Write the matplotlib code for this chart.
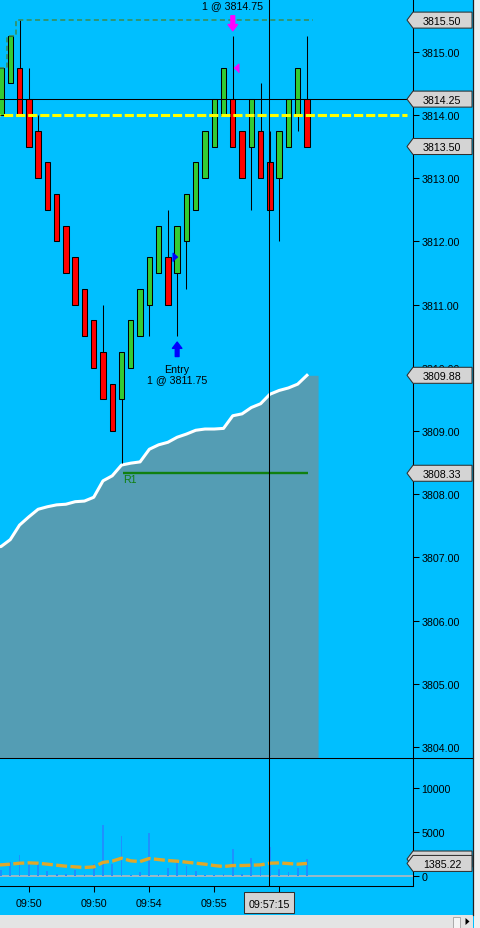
import numpy as np
import matplotlib
matplotlib.use('Agg')
import matplotlib.pyplot as plt
from matplotlib.patches import Polygon, Rectangle
from matplotlib.lines import Line2D
from matplotlib.transforms import IdentityTransform, offset_copy

plt.rcParams['font.family'] = ['Liberation Sans', 'DejaVu Sans']
FS = 7.7
BG = '#00BFFF'

#### bar data (34 bars)
opens = [3814.00, 3814.50, 3814.75, 3814.25, 3813.75, 3813.25, 3812.75, 3812.25, 3811.75, 3811.25,
         3810.75, 3810.25, 3809.75, 3809.50, 3810.00, 3810.50, 3811.00, 3811.50, 3811.75, 3811.50,
         3812.00, 3812.50, 3813.00, 3813.50, 3814.00, 3814.25, 3813.75, 3813.50, 3813.75, 3813.25,
         3813.00, 3813.50, 3814.00, 3814.25]
closes = [3814.75, 3815.25, 3814.00, 3813.50, 3813.00, 3812.50, 3812.00, 3811.50, 3811.00, 3810.50,
          3810.00, 3809.50, 3809.00, 3810.25, 3810.75, 3811.25, 3811.75, 3812.25, 3811.00, 3812.25,
          3812.75, 3813.25, 3813.75, 3814.25, 3814.75, 3813.50, 3813.00, 3814.25, 3813.00, 3812.50,
          3813.75, 3814.25, 3814.75, 3813.50]
highs = [3814.75, 3815.25, 3815.50, 3814.75, 3814.00, 3813.25, 3812.75, 3812.25, 3811.75, 3811.25,
         3810.75, 3811.00, 3809.75, 3810.25, 3810.75, 3811.25, 3811.75, 3812.25, 3812.50, 3812.25,
         3812.75, 3813.25, 3813.75, 3814.25, 3814.75, 3815.25, 3813.75, 3814.25, 3814.50, 3813.75,
         3813.75, 3814.25, 3814.75, 3815.25]
lows = [3814.00, 3814.50, 3814.00, 3813.50, 3813.00, 3812.50, 3812.00, 3811.50, 3811.00, 3810.50,
        3810.00, 3809.50, 3809.00, 3808.50, 3810.00, 3810.50, 3810.50, 3811.50, 3811.00, 3810.50,
        3811.25, 3812.50, 3813.00, 3813.50, 3814.00, 3813.50, 3813.00, 3812.50, 3813.00, 3812.50,
        3812.00, 3813.50, 3813.75, 3813.50]
volume = [610, 1600, 2330, 1300, 1300, 500, 230, 230, 610, 150,
          1300, 5760, 1300, 4500, 80, 380, 4850, 230, 840, 1490,
          1070, 500, 80, 80, 150, 3015, 230, 1985, 1070, 3240,
          725, 380, 840, 1890]
vol_avg = [1220, 1300, 1410, 1450, 1410, 1300, 1180, 1070, 990, 920,
           990, 1500, 1650, 1980, 1680, 1600, 1950, 1830, 1720, 1640,
           1530, 1410, 1300, 1145, 1030, 1145, 1145, 1180, 1220, 1410,
           1450, 1370, 1300, 1385.22]
profile = [3807.17, 3807.28, 3807.51, 3807.64, 3807.76, 3807.80, 3807.83, 3807.84, 3807.88, 3807.89,
           3807.95, 3808.21, 3808.29, 3808.46, 3808.49, 3808.51, 3808.71, 3808.78, 3808.82, 3808.90,
           3808.95, 3809.01, 3809.03, 3809.03, 3809.04, 3809.24, 3809.27, 3809.37, 3809.43, 3809.58,
           3809.64, 3809.68, 3809.74, 3809.88]
trail = [3814.75, 3815.25] + [3815.50] * 32

r1_level = 3808.33
r1_from, r1_to = 13.2, 33.1
yellow_level = 3814.00
entry_bar, entry_price = 19, 3811.75
exit_bar, exit_price = 25, 3814.75
cross_x, cross_price, cross_time = 28.9, 3814.25, '09:57:15'
xtick_pos = [3, 10, 16, 23, 30]
xtick_lab = ['09:50', '09:50', '09:54', '09:55', '']

n = len(opens)
idx = np.arange(n)

W, H = 481, 929
fig = plt.figure(figsize=(W / 100, H / 100), dpi=100, facecolor=BG)
ax = fig.add_axes([0, (H - 759.3) / H, 413 / W, 759.3 / H], facecolor=BG)
axv = fig.add_axes([0, (H - 887) / H, 413 / W, 127.7 / H], facecolor=BG)

xlim = (-0.108, 44.44)
ax.set_xlim(xlim)
axv.set_xlim(xlim)
ax.set_ylim(3803.82, 3815.834)
axv.set_ylim(-1201, 13432)

# shaded series
xf = np.concatenate([[-0.3], idx, [34.2]])
yf = np.concatenate([[profile[0]], profile, [profile[-1]]])
ax.fill_between(xf, yf, 3800, color='#549DB4', lw=0, zorder=1)
ax.plot(np.concatenate([[-0.3], idx]), [profile[0]] + profile, color='white', lw=2.2, zorder=2,
        solid_joinstyle='round')

# R1
ax.hlines(r1_level, r1_from, r1_to, color='#108010', lw=1.7, zorder=2.5)
ax.annotate('R1', (r1_from, r1_level), xytext=(0, -0.8), textcoords='offset points',
            ha='left', va='top', color='#108010', fontsize=FS, zorder=2.5)

# candles
o = np.array(opens); c = np.array(closes)
cols = np.where(c >= o, '#33CC33', '#FF0000')
ax.vlines(idx, lows, highs, color='black', lw=0.75, zorder=3)
ax.bar(idx, np.abs(c - o), bottom=np.minimum(o, c), width=0.58, color=cols,
       edgecolor='black', linewidth=0.75, zorder=4)

# trailing line
xs = np.concatenate([idx - 0.4, [33.66]])
ax.plot(xs, trail + [trail[-1]], drawstyle='steps-post', color='#3D8B4F', lw=1.1,
        linestyle=(0, (3.3, 2.2)), zorder=5)

# yellow level
ax.plot([xlim[0], 43.8], [yellow_level, yellow_level], color='#FFFF00', lw=2.2,
        linestyle=(2.8, (3.0, 0.95)), zorder=5)

# crosshair
ax.axhline(cross_price, color='black', lw=0.75, zorder=6)
ax.axvline(cross_x, color='black', lw=0.75, zorder=6)
axv.axvline(cross_x, ymin=0.008, color='black', lw=0.75, zorder=6)

# trade markers
tri_left = [(-0.56, 0), (0.56, 1), (0.56, -1)]
tri_right = [(0.56, 0), (-0.56, 1), (-0.56, -1)]
ax.plot(exit_bar + 0.4, exit_price, marker=tri_left, ms=6, color='#FF00FF', lw=0, zorder=7)
ax.plot(entry_bar - 0.22, entry_price, marker=tri_right, ms=6, color='#0000FF', lw=0, zorder=7)


def arrow(bar, price, tail_pt, tip_pt, color):
    tip = offset_copy(ax.transData, fig=fig, x=0, y=tip_pt, units='points')
    tail = offset_copy(ax.transData, fig=fig, x=0, y=tail_pt, units='points')
    ax.annotate('', xy=(bar, price), xycoords=tip, xytext=(bar, price), textcoords=tail,
                arrowprops=dict(arrowstyle='simple,head_length=0.45,head_width=0.68,tail_width=0.27',
                                color=color, shrinkA=0, shrinkB=0, mutation_scale=10), zorder=7)


arrow(exit_bar, highs[exit_bar], 14.5, 3.7, '#FF00FF')
arrow(entry_bar, lows[entry_bar], -14.7, -4.3, '#0000FF')
ax.annotate('1 @ %.2f' % exit_price, (exit_bar, highs[exit_bar]), xytext=(0, 22.2),
            textcoords='offset points', ha='center', va='center', fontsize=FS, zorder=7)
ax.annotate('Entry\n1 @ %.2f' % entry_price, (entry_bar, lows[entry_bar]), xytext=(0, -27.3),
            textcoords='offset points', ha='center', va='center', fontsize=FS,
            linespacing=1.1, zorder=7)

# volume panel
axv.axhline(0, color='#C4B8B8', lw=1.1, zorder=1)
axv.bar(idx, volume, width=0.19, color='#1E90FF', zorder=2)
axv.plot(np.concatenate([[-0.3], idx]), [vol_avg[0]] + vol_avg, color='#E0A82A', lw=2.4,
         linestyle=(0, (3.3, 1.0)), zorder=3)

# axes styling
for a in (ax, axv):
    for s in ('left', 'top'):
        a.spines[s].set_visible(False)
    a.spines['right'].set_color('black')
    a.spines['right'].set_linewidth(0.75)
    a.yaxis.tick_right()
    a.tick_params(axis='y', direction='out', length=4, width=0.75, pad=2.2, labelsize=FS,
                  colors='black')
ax.spines['bottom'].set_visible(False)
ax.set_xticks([])
ax.set_yticks(np.arange(3804, 3816))
ax.set_yticklabels(['%.2f' % v for v in np.arange(3804, 3816)])
axv.set_yticks([0, 5000, 10000])
axv.set_yticklabels(['0', '5000', '10000'])
axv.spines['bottom'].set_linewidth(0.75)
axv.set_xticks(xtick_pos)
axv.set_xticklabels(xtick_lab)
axv.tick_params(axis='x', direction='out', length=4.3, width=0.75, pad=4.1, labelsize=FS)

ID = IdentityTransform()


def tag(axis, value, text, show_text=True):
    y = axis.transData.transform((0, value))[1]
    fig.add_artist(Polygon([(407, y), (413, y + 8), (472, y + 8), (472, y - 8), (413, y - 8)],
                           closed=True, transform=ID, fc='#D4D4D4', ec='#303030', lw=0.75))
    if show_text:
        fig.text(442, y - 3.8, text, transform=ID, ha='center', va='baseline', fontsize=FS)


tag(ax, trail[-1], '%.2f' % trail[-1])
tag(ax, cross_price, '%.2f' % cross_price)
tag(ax, closes[-1], '%.2f' % closes[-1])
tag(ax, profile[-1], '%.2f' % profile[-1])
tag(ax, r1_level, '%.2f' % r1_level)
tag(axv, volume[-1], '%d' % volume[-1], show_text=False)
tag(axv, vol_avg[-1], '%.2f' % vol_avg[-1])

# time tag under crosshair
xc = ax.transData.transform((cross_x, 0))[0]
fig.add_artist(Rectangle((xc - 24.7, H - 914.3), 49.4, 21, transform=ID, fc='#D4D4D4',
                         ec='#303030', lw=0.75))
fig.text(xc, H - 903.8 - 3.8, cross_time, transform=ID, ha='center', va='baseline', fontsize=FS)

# frame pieces
fig.add_artist(Line2D([0, 472.5], [H - 759.3, H - 759.3], transform=ID, color='black', lw=0.75))
fig.add_artist(Rectangle((473.5, 0), 8, H, transform=ID, fc='#F0F0F0', ec='none'))
fig.add_artist(Line2D([472.8, 472.8], [13, H], transform=ID, color='#202020', lw=0.9))
fig.add_artist(Rectangle((0, 0), 473, 13, transform=ID, fc='#E4E4E4', ec='none'))
fig.add_artist(Rectangle((453, 0), 7, 11, transform=ID, fc='#F4F4F4', ec='#A0A0A0', lw=0.6))
fig.add_artist(Polygon([(465.5, 10), (469.5, 6.5), (465.5, 3)], closed=True, transform=ID,
                       fc='black', ec='none'))

fig.savefig('out.png', dpi=100, facecolor=BG)
